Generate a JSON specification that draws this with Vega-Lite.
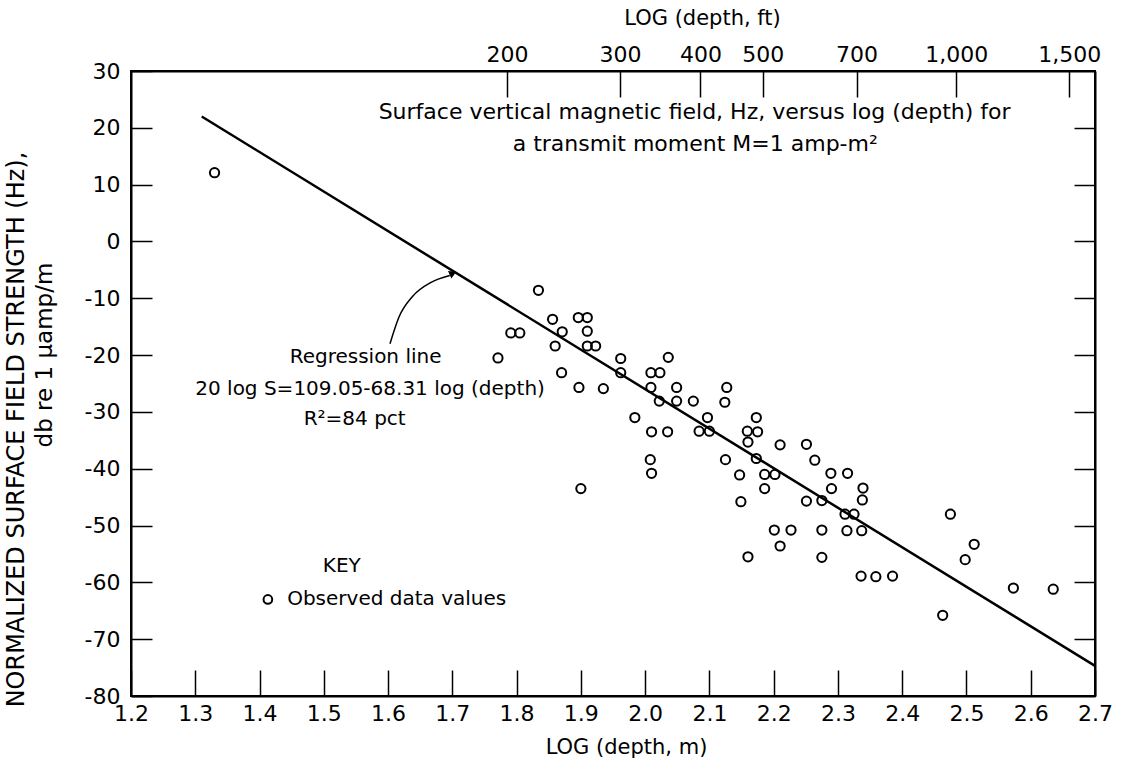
{
  "$schema": "https://vega.github.io/schema/vega-lite/v6.json",
  "width": 964,
  "height": 625,
  "autosize": {"type": "none"},
  "padding": {"left": 131, "top": 71, "right": 33, "bottom": 71},
  "background": "white",
  "data": {"values": [{}]},
  "config": {
    "view": {"stroke": "black", "strokeWidth": 2},
    "font": "DejaVu Sans",
    "axis": {
      "grid": false,
      "domainColor": "black",
      "domainWidth": 2,
      "tickColor": "black",
      "tickWidth": 1.5,
      "labelColor": "black",
      "titleColor": "black",
      "labelFont": "DejaVu Sans",
      "titleFont": "DejaVu Sans",
      "labelFontSize": 22,
      "titleFontSize": 21,
      "titleFontWeight": "normal",
      "labelFlush": false,
      "labelOverlap": false
    },
    "text": {"font": "DejaVu Sans", "fontSize": 20, "color": "black"}
  },
  "datasets": {
    "obs": [
      {"logDepth": 1.33, "fieldStrength": 12.1},
      {"logDepth": 1.771, "fieldStrength": -20.5},
      {"logDepth": 1.791, "fieldStrength": -16.1},
      {"logDepth": 1.805, "fieldStrength": -16.1},
      {"logDepth": 1.834, "fieldStrength": -8.6},
      {"logDepth": 1.856, "fieldStrength": -13.7},
      {"logDepth": 1.86, "fieldStrength": -18.4},
      {"logDepth": 1.87, "fieldStrength": -23.1},
      {"logDepth": 1.871, "fieldStrength": -15.9},
      {"logDepth": 1.896, "fieldStrength": -13.4},
      {"logDepth": 1.897, "fieldStrength": -25.7},
      {"logDepth": 1.9, "fieldStrength": -43.5},
      {"logDepth": 1.91, "fieldStrength": -13.4},
      {"logDepth": 1.91, "fieldStrength": -15.8},
      {"logDepth": 1.91, "fieldStrength": -18.4},
      {"logDepth": 1.923, "fieldStrength": -18.4},
      {"logDepth": 1.935, "fieldStrength": -25.9},
      {"logDepth": 1.962, "fieldStrength": -20.6},
      {"logDepth": 1.962, "fieldStrength": -23.1},
      {"logDepth": 1.984, "fieldStrength": -31.0},
      {"logDepth": 2.008, "fieldStrength": -38.4},
      {"logDepth": 2.009, "fieldStrength": -23.1},
      {"logDepth": 2.009, "fieldStrength": -25.7},
      {"logDepth": 2.01, "fieldStrength": -33.5},
      {"logDepth": 2.01, "fieldStrength": -40.8},
      {"logDepth": 2.022, "fieldStrength": -28.1},
      {"logDepth": 2.023, "fieldStrength": -23.1},
      {"logDepth": 2.035, "fieldStrength": -33.5},
      {"logDepth": 2.036, "fieldStrength": -20.4},
      {"logDepth": 2.049, "fieldStrength": -25.7},
      {"logDepth": 2.049, "fieldStrength": -28.1},
      {"logDepth": 2.075, "fieldStrength": -28.1},
      {"logDepth": 2.084, "fieldStrength": -33.4},
      {"logDepth": 2.097, "fieldStrength": -31.0},
      {"logDepth": 2.1, "fieldStrength": -33.4},
      {"logDepth": 2.124, "fieldStrength": -28.3},
      {"logDepth": 2.125, "fieldStrength": -38.4},
      {"logDepth": 2.127, "fieldStrength": -25.7},
      {"logDepth": 2.147, "fieldStrength": -41.1},
      {"logDepth": 2.149, "fieldStrength": -45.8},
      {"logDepth": 2.159, "fieldStrength": -33.4},
      {"logDepth": 2.16, "fieldStrength": -35.3},
      {"logDepth": 2.16, "fieldStrength": -55.5},
      {"logDepth": 2.173, "fieldStrength": -31.0},
      {"logDepth": 2.173, "fieldStrength": -38.2},
      {"logDepth": 2.175, "fieldStrength": -33.5},
      {"logDepth": 2.186, "fieldStrength": -41.0},
      {"logDepth": 2.186, "fieldStrength": -43.5},
      {"logDepth": 2.201, "fieldStrength": -50.8},
      {"logDepth": 2.202, "fieldStrength": -41.0},
      {"logDepth": 2.21, "fieldStrength": -35.8},
      {"logDepth": 2.21, "fieldStrength": -53.6},
      {"logDepth": 2.227, "fieldStrength": -50.8},
      {"logDepth": 2.251, "fieldStrength": -35.7},
      {"logDepth": 2.251, "fieldStrength": -45.7},
      {"logDepth": 2.264, "fieldStrength": -38.5},
      {"logDepth": 2.275, "fieldStrength": -45.6},
      {"logDepth": 2.275, "fieldStrength": -50.8},
      {"logDepth": 2.275, "fieldStrength": -55.6},
      {"logDepth": 2.289, "fieldStrength": -40.8},
      {"logDepth": 2.29, "fieldStrength": -43.5},
      {"logDepth": 2.311, "fieldStrength": -48.0},
      {"logDepth": 2.314, "fieldStrength": -50.9},
      {"logDepth": 2.315, "fieldStrength": -40.8},
      {"logDepth": 2.325, "fieldStrength": -48.0},
      {"logDepth": 2.336, "fieldStrength": -58.9},
      {"logDepth": 2.337, "fieldStrength": -50.9},
      {"logDepth": 2.338, "fieldStrength": -45.5},
      {"logDepth": 2.339, "fieldStrength": -43.4},
      {"logDepth": 2.359, "fieldStrength": -59.0},
      {"logDepth": 2.385, "fieldStrength": -58.9},
      {"logDepth": 2.463, "fieldStrength": -65.8},
      {"logDepth": 2.475, "fieldStrength": -48.0},
      {"logDepth": 2.498, "fieldStrength": -56.0},
      {"logDepth": 2.512, "fieldStrength": -53.3},
      {"logDepth": 2.573, "fieldStrength": -61.0},
      {"logDepth": 2.635, "fieldStrength": -61.2}
    ],
    "regression": [
      {"logDepth": 1.31, "fieldStrength": 22.0},
      {"logDepth": 2.7, "fieldStrength": -74.7}
    ],
    "arrow": [
      {"logDepth": 1.603, "fieldStrength": -18.0},
      {"logDepth": 1.617, "fieldStrength": -13.3},
      {"logDepth": 1.638, "fieldStrength": -9.7},
      {"logDepth": 1.667, "fieldStrength": -7.2},
      {"logDepth": 1.696, "fieldStrength": -6.0}
    ]
  },
  "resolve": {"axis": {"x": "independent", "y": "independent"}},
  "layer": [
    {
      "data": {"name": "obs"},
      "mark": {"type": "point", "shape": "circle", "filled": false, "stroke": "black", "strokeWidth": 2, "size": 85, "opacity": 1},
      "encoding": {
        "x": {
          "field": "logDepth", "type": "quantitative",
          "scale": {"domain": [1.2, 2.7], "nice": false, "zero": false},
          "axis": {
            "orient": "bottom",
            "values": [1.2, 1.3, 1.4, 1.5, 1.6, 1.7, 1.8, 1.9, 2.0, 2.1, 2.2, 2.3, 2.4, 2.5, 2.6, 2.7],
            "format": ".1f",
            "tickSize": -26,
            "labelPadding": 33,
            "title": "LOG (depth, m)",
            "titleX": 495,
            "titlePadding": 12
          }
        },
        "y": {
          "field": "fieldStrength", "type": "quantitative",
          "scale": {"domain": [-80, 30], "nice": false, "zero": false},
          "axis": {
            "orient": "left",
            "values": [-80, -70, -60, -50, -40, -30, -20, -10, 0, 10, 20, 30],
            "labelExpr": "datum.value < 0 ? '-' + abs(datum.value) : '' + datum.value",
            "tickSize": -21,
            "labelPadding": 32,
            "title": "NORMALIZED SURFACE FIELD STRENGTH (Hz),",
            "titleFontSize": 24,
            "titleY": 358,
            "titlePadding": 56
          }
        }
      }
    },
    {
      "data": {"name": "regression"},
      "mark": {"type": "line", "color": "black", "strokeWidth": 2.5},
      "encoding": {
        "x": {
          "field": "logDepth", "type": "quantitative",
          "scale": {"domain": [1.2, 2.7], "nice": false, "zero": false},
          "axis": {
            "orient": "top",
            "values": [1.785, 1.961, 2.086, 2.183, 2.329, 2.484, 2.66],
            "labelExpr": "format(round(pow(10, datum.value)/30.48)*100, ',')",
            "tickSize": -26,
            "labelPadding": 31,
            "title": "LOG (depth, ft)",
            "titleX": 571,
            "titleY": -53,
            "titleBaseline": "middle",
            "titleAlign": "center"
          }
        },
        "y": {
          "field": "fieldStrength", "type": "quantitative",
          "scale": {"domain": [-80, 30], "nice": false, "zero": false},
          "axis": {
            "orient": "right",
            "values": [-70, -60, -50, -40, -30, -20, -10, 0, 10, 20],
            "labels": false,
            "tickSize": -21,
            "title": null
          }
        }
      }
    },
    {
      "data": {"name": "arrow"},
      "mark": {"type": "line", "color": "black", "strokeWidth": 1.5, "interpolate": "monotone"},
      "encoding": {
        "x": {"field": "logDepth", "type": "quantitative", "axis": null},
        "y": {"field": "fieldStrength", "type": "quantitative", "axis": null}
      }
    },
    {
      "mark": {"type": "point", "shape": "triangle-up", "filled": true, "color": "black", "size": 70, "angle": 66, "opacity": 1},
      "encoding": {
        "x": {"datum": 1.701, "type": "quantitative", "axis": null},
        "y": {"datum": -5.6, "type": "quantitative", "axis": null}
      }
    },
    {
      "mark": {"type": "text", "text": "db re 1 μamp/m", "align": "center", "baseline": "middle", "angle": 270, "fontSize": 23},
      "encoding": {
        "x": {"datum": 1.066, "type": "quantitative", "axis": null},
        "y": {"datum": -20.0, "type": "quantitative", "axis": null}
      }
    },
    {
      "mark": {"type": "text", "text": "Surface vertical magnetic field, Hz, versus log (depth) for", "align": "center", "baseline": "middle", "fontSize": 22},
      "encoding": {
        "x": {"datum": 2.077, "type": "quantitative", "axis": null},
        "y": {"datum": 22.8, "type": "quantitative", "axis": null}
      }
    },
    {
      "mark": {"type": "text", "text": "a transmit moment M=1 amp-m²", "align": "center", "baseline": "middle", "fontSize": 22},
      "encoding": {
        "x": {"datum": 2.078, "type": "quantitative", "axis": null},
        "y": {"datum": 17.2, "type": "quantitative", "axis": null}
      }
    },
    {
      "mark": {"type": "text", "text": "Regression line", "align": "center", "baseline": "middle"},
      "encoding": {
        "x": {"datum": 1.565, "type": "quantitative", "axis": null},
        "y": {"datum": -20.3, "type": "quantitative", "axis": null}
      }
    },
    {
      "mark": {"type": "text", "text": "20 log S=109.05-68.31 log (depth)", "align": "center", "baseline": "middle"},
      "encoding": {
        "x": {"datum": 1.572, "type": "quantitative", "axis": null},
        "y": {"datum": -25.9, "type": "quantitative", "axis": null}
      }
    },
    {
      "mark": {"type": "text", "text": "R²=84 pct", "align": "center", "baseline": "middle"},
      "encoding": {
        "x": {"datum": 1.548, "type": "quantitative", "axis": null},
        "y": {"datum": -31.2, "type": "quantitative", "axis": null}
      }
    },
    {
      "mark": {"type": "text", "text": "KEY", "align": "center", "baseline": "middle"},
      "encoding": {
        "x": {"datum": 1.528, "type": "quantitative", "axis": null},
        "y": {"datum": -57.2, "type": "quantitative", "axis": null}
      }
    },
    {
      "mark": {"type": "point", "shape": "circle", "filled": false, "stroke": "black", "strokeWidth": 2, "size": 75, "opacity": 1},
      "encoding": {
        "x": {"datum": 1.413, "type": "quantitative", "axis": null},
        "y": {"datum": -63.0, "type": "quantitative", "axis": null}
      }
    },
    {
      "mark": {"type": "text", "text": "Observed data values", "align": "left", "baseline": "middle"},
      "encoding": {
        "x": {"datum": 1.443, "type": "quantitative", "axis": null},
        "y": {"datum": -63.0, "type": "quantitative", "axis": null}
      }
    }
  ]
}
